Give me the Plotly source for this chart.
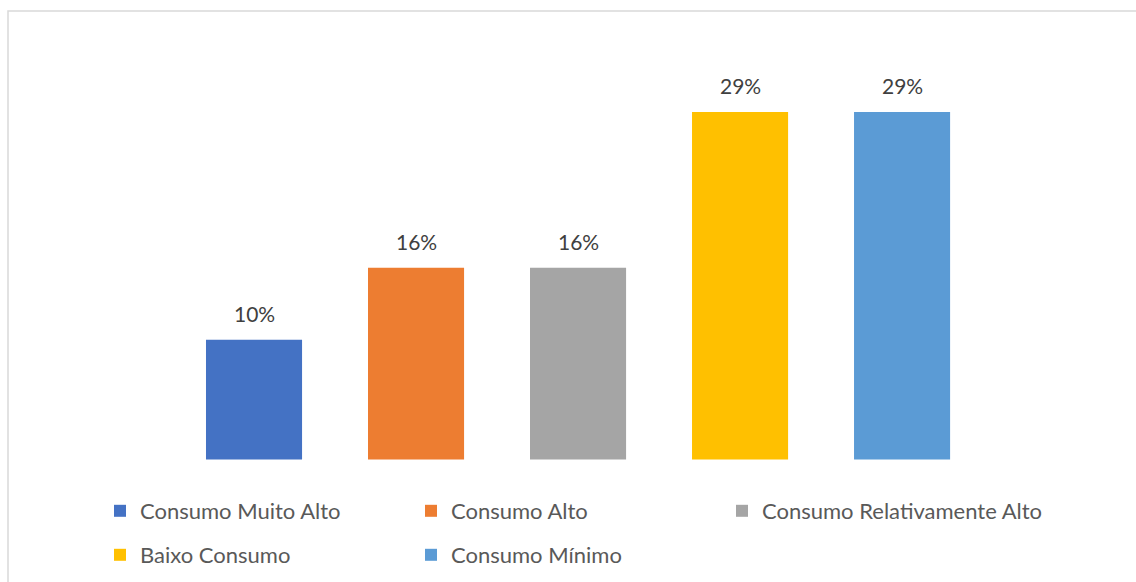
import plotly.graph_objects as go

# Share of households by consumption class (%)
categorias = [
    "Consumo Muito Alto",
    "Consumo Alto",
    "Consumo Relativamente Alto",
    "Baixo Consumo",
    "Consumo Mínimo",
]
percentuais = [10, 16, 16, 29, 29]
cores = ["#4472C4", "#ED7D31", "#A5A5A5", "#FFC000", "#5B9BD5"]

W, H = 1136, 582
FONTE = "Lato"

# legend grid: three columns, two rows (left edge x, vertical centre y in px)
colunas_px = [100, 411, 722]
linhas_px = [511, 555]
grade = [(0, 0), (1, 0), (2, 0), (0, 1), (1, 1)]
nomes_legenda = ["legend", "legend2", "legend3", "legend4", "legend5"]

fig = go.Figure()
for cat, val, cor, leg in zip(categorias, percentuais, cores, nomes_legenda):
    fig.add_trace(
        go.Bar(
            x=[cat],
            y=[val],
            name=cat,
            marker=dict(color=cor, line=dict(width=0)),
            width=0.593,
            legend=leg,
            hoverinfo="skip",
        )
    )
    # value label above each bar
    fig.add_annotation(
        x=cat,
        y=val,
        text=f"{val}%",
        showarrow=False,
        yanchor="bottom",
        yshift=12,
        font=dict(family=FONTE, size=21, color="#404040"),
    )

# light frame around the chart area
fig.add_shape(
    type="rect",
    xref="paper",
    yref="paper",
    x0=8 / W,
    x1=1.02,
    y0=-0.02,
    y1=1 - 11 / H,
    line=dict(color="#D9D9D9", width=1.5),
    fillcolor="rgba(0,0,0,0)",
    layer="below",
)

legendas = {}
for leg, (c, r) in zip(nomes_legenda, grade):
    legendas[leg] = dict(
        x=colunas_px[c] / W,
        y=1 - linhas_px[r] / H,
        xanchor="left",
        yanchor="middle",
        orientation="h",
        font=dict(family=FONTE, size=22, color="#595959"),
        bgcolor="rgba(0,0,0,0)",
        itemclick=False,
        itemdoubleclick=False,
    )

fig.update_layout(
    width=W,
    height=H,
    margin=dict(l=0, r=0, t=0, b=0),
    paper_bgcolor="white",
    plot_bgcolor="white",
    barmode="overlay",
    showlegend=True,
    xaxis=dict(
        type="category",
        categoryorder="array",
        categoryarray=categorias,
        range=[-1.568, 5.444],
        visible=False,
        fixedrange=True,
    ),
    yaxis=dict(
        range=[-10.22, 38.35],
        visible=False,
        fixedrange=True,
    ),
    font=dict(family=FONTE),
    **legendas,
)

fig.write_html("out.html")
